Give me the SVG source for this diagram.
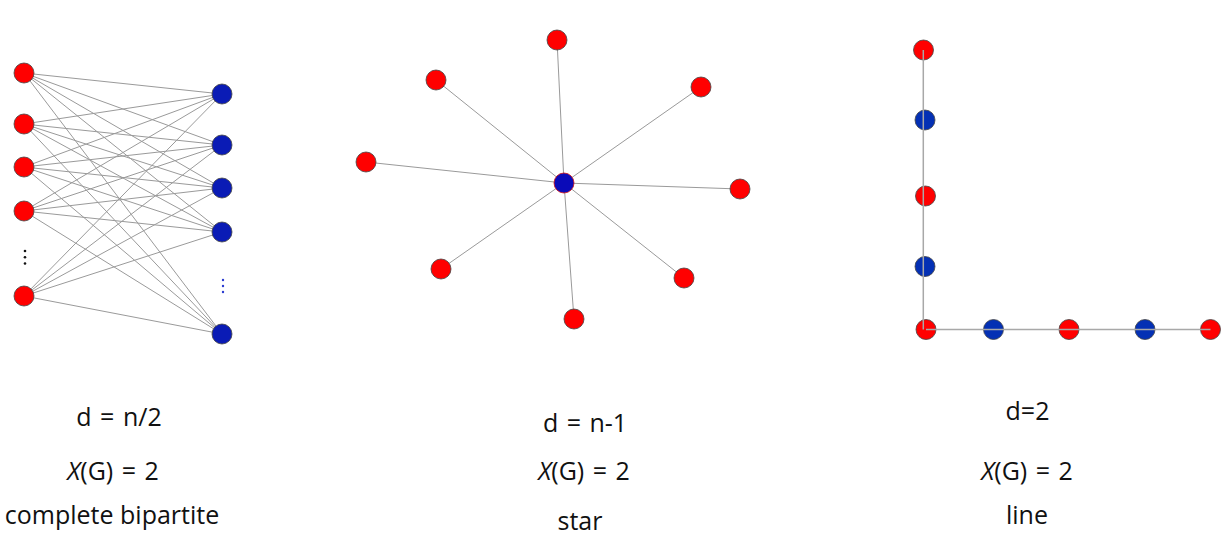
<svg xmlns="http://www.w3.org/2000/svg" width="1228" height="547" viewBox="0 0 1228 547">
<style>
.e{stroke:#9a9a9a;stroke-width:1;fill:none}
.el{stroke:#a8a8a8;stroke-width:1.5;fill:none}
.r{fill:#ff0000;stroke:#444;stroke-width:0.8}
.b{fill:#0a1bb5;stroke:#444;stroke-width:0.8}
.b2{fill:#0430b4;stroke:#444;stroke-width:0.8}
.t{font-family:"Open Sans","Noto Sans","DejaVu Sans",sans-serif;font-size:25px;fill:#111;text-anchor:middle}
.w{word-spacing:2px}
</style>
<rect width="1228" height="547" fill="#fff"/>
<g id="connectors">
<g id="bipartite-edges" class="e">
<path d="M24,73L222,94M24,73L222,145M24,73L222,188M24,73L222,232M24,73L222,334
M24,124L222,94M24,124L222,145M24,124L222,188M24,124L222,232M24,124L222,334
M24,167L222,94M24,167L222,145M24,167L222,188M24,167L222,232M24,167L222,334
M24,211L222,94M24,211L222,145M24,211L222,188M24,211L222,232M24,211L222,334
M24,296L222,94M24,296L222,145M24,296L222,188M24,296L222,232M24,296L222,334"/>
</g>
<g id="star-edges" class="e">
<path d="M564,183L557,40M564,183L436,80M564,183L701,87M564,183L366,162M564,183L740,189M564,183L441,269M564,183L684,278M564,183L574,319"/>
</g>
</g>
<g id="bipartite">
<circle id="L1" class="r" cx="24" cy="73" r="10"/>
<circle id="L2" class="r" cx="24" cy="124" r="10"/>
<circle id="L3" class="r" cx="24" cy="167" r="10"/>
<circle id="L4" class="r" cx="24" cy="211" r="10"/>
<circle id="L5" class="r" cx="24" cy="296" r="10"/>
<circle id="R1" class="b" cx="222" cy="94" r="10"/>
<circle id="R2" class="b" cx="222" cy="145" r="10"/>
<circle id="R3" class="b" cx="222" cy="188" r="10"/>
<circle id="R4" class="b" cx="222" cy="232" r="10"/>
<circle id="R5" class="b" cx="222" cy="334" r="10"/>
<g id="dots-left" fill="#111">
<circle cx="25" cy="251" r="1.3"/><circle cx="25" cy="257.3" r="1.3"/><circle cx="25" cy="263.5" r="1.3"/>
</g>
<g id="dots-right" fill="#2a3bd0">
<circle cx="223" cy="280" r="1.2"/><circle cx="223" cy="286" r="1.2"/><circle cx="223" cy="292" r="1.2"/>
</g>
</g>
<g id="star">
<circle id="S1" class="r" cx="557" cy="40" r="10"/>
<circle id="S2" class="r" cx="436" cy="80" r="10"/>
<circle id="S3" class="r" cx="701" cy="87" r="10"/>
<circle id="S4" class="r" cx="366" cy="162" r="10"/>
<circle id="S5" class="r" cx="740" cy="189" r="10"/>
<circle id="S6" class="r" cx="441" cy="269" r="10"/>
<circle id="S7" class="r" cx="684" cy="278" r="10"/>
<circle id="S8" class="r" cx="574" cy="319" r="10"/>
<circle id="SC" cx="564" cy="183" r="10" fill="#0a0ab8" stroke="#d01010" stroke-width="0.8"/>
</g>
<g id="line">
<circle id="P1" class="r" cx="923.5" cy="50" r="10"/>
<circle id="P2" class="b2" cx="925" cy="120" r="10"/>
<circle id="P3" class="r" cx="925.5" cy="196" r="10"/>
<circle id="P4" class="b2" cx="925" cy="266.5" r="10"/>
<circle id="P5" class="r" cx="926" cy="329.5" r="10"/>
<circle id="P6" class="b2" cx="993.5" cy="329.5" r="10"/>
<circle id="P7" class="r" cx="1069" cy="329.5" r="10"/>
<circle id="P8" class="b2" cx="1145" cy="329.5" r="10"/>
<circle id="P9" class="r" cx="1210.5" cy="329.5" r="10"/>
</g>
<g id="line-edges" class="el">
<path d="M923.3,50V329.5M926,329.5H1210.5"/>
</g>
<g id="labels" class="t">
<text class="w" x="119" y="426">d = n/2</text>
<text class="w" x="113" y="480"><tspan font-style="italic">X</tspan>(G) = 2</text>
<text x="112" y="524">complete bipartite</text>
<text class="w" x="585" y="432">d = n-1</text>
<text class="w" x="584" y="480"><tspan font-style="italic">X</tspan>(G) = 2</text>
<text x="580" y="530">star</text>
<text x="1027.5" y="420">d=2</text>
<text class="w" x="1027" y="480"><tspan font-style="italic">X</tspan>(G) = 2</text>
<text x="1027" y="524">line</text>
</g>
</svg>
